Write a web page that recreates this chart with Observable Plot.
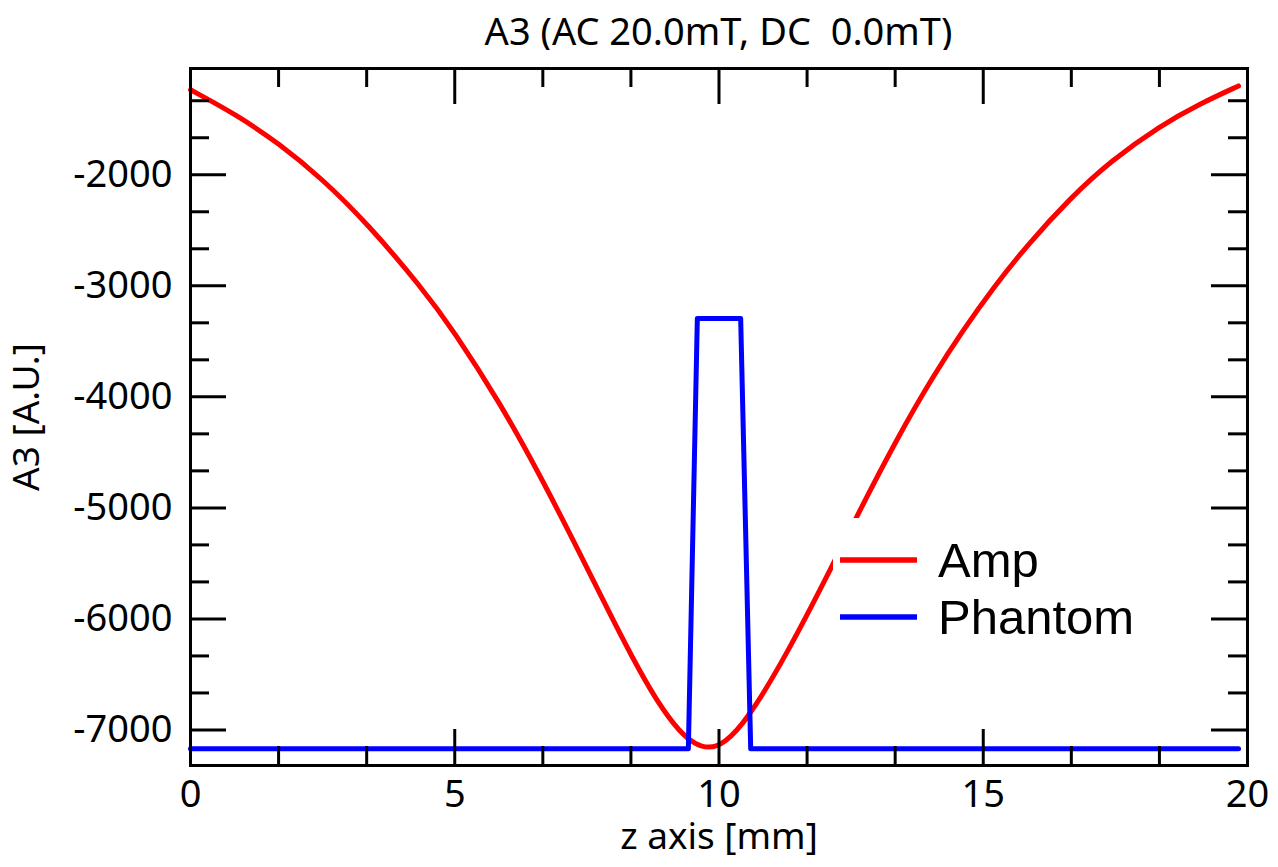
<!DOCTYPE html>
<html>
<head>
<meta charset="utf-8">
<script src="https://cdn.jsdelivr.net/npm/d3@7"></script>
<script src="https://cdn.jsdelivr.net/npm/@observablehq/plot@0.6"></script>
<style>
  body { margin: 0; background: #fff; }
  #wrap { position: relative; width: 1278px; height: 867px; overflow: hidden; }
  #title { position: absolute; left: 190px; width: 1057px; top: 5px; height: 50px; line-height: 50px;
           text-align: center; font-family: "Noto Sans", sans-serif; font-size: 38px; white-space: pre; color: #000; }
  #chart { position: absolute; left: 0; top: 50px; }
  #legend { position: absolute; left: 833px; top: 518px; }
</style>
</head>
<body>
<div id="wrap">
  <div id="title"></div>
  <div id="chart"></div>
  <div id="legend"></div>
</div>
<script>
// ---- data ----
const titleText = "A3 (AC 20.0mT, DC  0.0mT)";
const xLabel = "z axis [mm]";
const yLabel = "A3 [A.U.]";
const seriesNames = ["Amp", "Phantom"];
const seriesColors = ["#ff0000", "#0000ff"];

const ampZ = [0, 0.85, 1.67, 2.49, 3.34, 4.38, 4.98, 5.85, 6.62, 7.28, 7.92, 8.33, 8.83, 9.27, 9.55, 9.8, 10.1, 10.53, 11.29, 12.17, 12.61, 13.37, 14.06, 14.62, 15.2, 15.83, 16.65, 17.41, 18.35, 19.11, 19.83];
const ampV = [-1235, -1454, -1716, -2036, -2436, -3018, -3405, -4049, -4711, -5328, -5939, -6322, -6750, -7028, -7128, -7168, -7124, -6915, -6315, -5497, -5072, -4373, -3807, -3398, -3012, -2634, -2208, -1877, -1557, -1358, -1200];

const phantomZ = [0, 9.42, 9.59, 10.41, 10.6, 19.83];
const phantomV = [-7170, -7170, -3295, -3295, -7170, -7170];

const xMajor = [0, 5, 10, 15, 20];
const yMajor = [-7000, -6000, -5000, -4000, -3000, -2000];
const xMinor = [5/3, 10/3, 20/3, 25/3, 35/3, 40/3, 50/3, 55/3];
const yMinor = [-6666.67, -6333.33, -5666.67, -5333.33, -4666.67, -4333.33, -3666.67, -3333.33, -2666.67, -2333.33, -1666.67, -1333.33];

const xDomain = [0, 20];
const yDomain = [-7320, -1043];

// ---- build ----
const amp = ampZ.map((z, i) => ({z, v: ampV[i]}));
const phantom = phantomZ.map((z, i) => ({z, v: phantomV[i]}));

const W = 1278, H = 817, mL = 190, mR = 31, mT = 18, mB = 102;
const FW = W - mL - mR, FH = H - mT - mB;
const majorLen = 36, minorLen = 19;

document.getElementById("title").textContent = titleText;

const chart = Plot.plot({
  width: W, height: H,
  marginLeft: mL, marginRight: mR, marginTop: mT, marginBottom: mB,
  x: {domain: xDomain},
  y: {domain: yDomain},
  style: {fontFamily: "'Noto Sans', sans-serif", fontSize: "37px", color: "#000", background: "#fff"},
  marks: [
    Plot.line(amp, {x: "z", y: "v", stroke: seriesColors[0], strokeWidth: 5, curve: "basis"}),
    Plot.line(phantom, {x: "z", y: "v", stroke: seriesColors[1], strokeWidth: 5}),
    // inward ticks on all four sides
    Plot.tickX(xMajor, {x: d => d, stroke: "#000", strokeWidth: 3, insetTop: FH - majorLen}),
    Plot.tickX(xMajor, {x: d => d, stroke: "#000", strokeWidth: 3, insetBottom: FH - majorLen}),
    Plot.tickX(xMinor, {x: d => d, stroke: "#000", strokeWidth: 3, insetTop: FH - minorLen}),
    Plot.tickX(xMinor, {x: d => d, stroke: "#000", strokeWidth: 3, insetBottom: FH - minorLen}),
    Plot.tickY(yMajor, {y: d => d, stroke: "#000", strokeWidth: 3, insetRight: FW - majorLen}),
    Plot.tickY(yMajor, {y: d => d, stroke: "#000", strokeWidth: 3, insetLeft: FW - majorLen}),
    Plot.tickY(yMinor, {y: d => d, stroke: "#000", strokeWidth: 3, insetRight: FW - minorLen}),
    Plot.tickY(yMinor, {y: d => d, stroke: "#000", strokeWidth: 3, insetLeft: FW - minorLen}),
    Plot.frame({stroke: "#000", strokeWidth: 3}),
    Plot.axisX(xMajor, {anchor: "bottom", tickSize: 0, tickPadding: 15, fontSize: 38, tickFormat: d => String(d), label: null}),
    Plot.axisY(yMajor, {anchor: "left", tickSize: 0, tickPadding: 18, fontSize: 38, tickFormat: d => String(d), label: null}),
    Plot.text([xLabel], {text: d => d, frameAnchor: "bottom", dy: 72, textAnchor: "middle", lineAnchor: "middle", fontSize: 37}),
    Plot.text([yLabel], {text: d => d, frameAnchor: "left", dx: -163, rotate: -90, textAnchor: "middle", lineAnchor: "middle", fontSize: 37})
  ]
});
document.getElementById("chart").appendChild(chart);

// ---- legend (boxed, white background, occludes curve) ----
const ns = "http://www.w3.org/2000/svg";
const lg = document.createElementNS(ns, "svg");
lg.setAttribute("width", 320); lg.setAttribute("height", 130);
const bg = document.createElementNS(ns, "rect");
bg.setAttribute("width", 320); bg.setAttribute("height", 130); bg.setAttribute("fill", "#fff");
lg.appendChild(bg);
const rowsY = [42, 99];
seriesNames.forEach((name, i) => {
  const ln = document.createElementNS(ns, "line");
  ln.setAttribute("x1", 7); ln.setAttribute("x2", 84);
  ln.setAttribute("y1", rowsY[i]); ln.setAttribute("y2", rowsY[i]);
  ln.setAttribute("stroke", seriesColors[i]); ln.setAttribute("stroke-width", 5.5);
  lg.appendChild(ln);
  const t = document.createElementNS(ns, "text");
  t.setAttribute("x", 105); t.setAttribute("y", rowsY[i] + 17);
  t.setAttribute("font-family", "'Liberation Sans', Arial, sans-serif");
  t.setAttribute("font-size", 49);
  t.setAttribute("fill", "#000");
  t.textContent = name;
  lg.appendChild(t);
});
document.getElementById("legend").appendChild(lg);
</script>
</body>
</html>
